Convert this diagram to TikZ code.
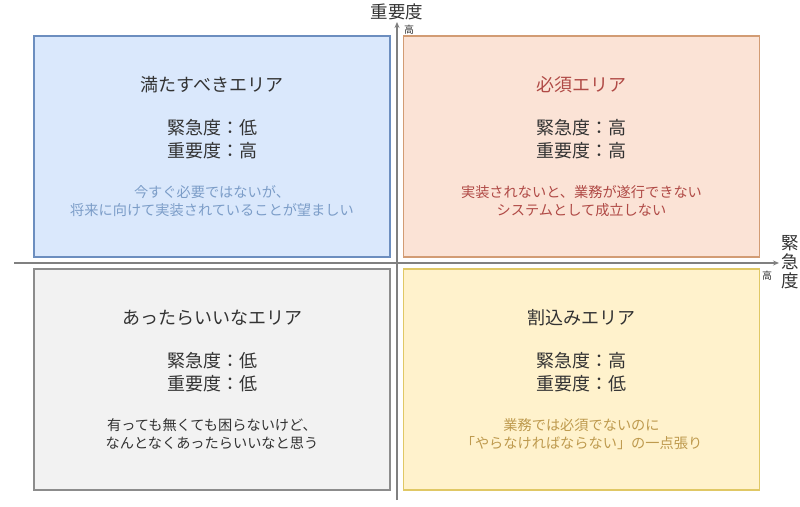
\documentclass[tikz,border=0pt]{standalone}
\usepackage{fontspec}
\setmainfont{Noto Sans CJK JP}
\usetikzlibrary{positioning, arrows.meta}
\definecolor{txtgray}{HTML}{333333}
\definecolor{axisgray}{HTML}{808080}
\definecolor{blueFill}{HTML}{DAE8FC}
\definecolor{blueLine}{HTML}{6C8EBF}
\definecolor{blueText}{HTML}{7C9DC8}
\definecolor{redFill}{HTML}{FBE3D6}
\definecolor{redLine}{HTML}{D29C74}
\definecolor{redText}{HTML}{B04A46}
\definecolor{grayFill}{HTML}{F2F2F2}
\definecolor{grayLine}{HTML}{8C8C8C}
\definecolor{yellowFill}{HTML}{FFF2CC}
\definecolor{yellowLine}{HTML}{E0C865}
\definecolor{yellowText}{HTML}{BE9A4E}
\tikzstyle{area} = [rectangle, 
minimum width=356pt, 
minimum height=221pt, 
inner sep=0pt, 
line width=1.2pt]
\tikzstyle{title} = [font=\fontsize{18}{22}\selectfont, 
text=txtgray]
\tikzstyle{level} = [align=center, 
font=\fontsize{18}{23}\selectfont, 
text=txtgray]
\tikzstyle{note} = [align=center, 
font=\fontsize{14.2}{18}\selectfont]
\tikzstyle{axislabel} = [align=center, 
font=\fontsize{17.5}{19}\selectfont, 
text=txtgray, inner sep=0pt]
\tikzstyle{tick} = [font=\fontsize{10}{11}\selectfont, 
text=txtgray, inner sep=0pt]
\tikzstyle{arrow} = [line width=1.1pt, draw=axisgray, 
-{Stealth[length=6pt, width=5pt]}]

\begin{document}
\begin{tikzpicture}[x=1pt, y=-1pt, node distance=54pt]
\useasboundingbox [fill=white] (0,0) rectangle (800,506);

\node (areaA) [area, draw=blueLine, fill=blueFill] at (212,146.5) {};
\node (areaB) [area, draw=redLine, fill=redFill] at (581.5,146.5) {};
\node (areaC) [area, draw=grayLine, fill=grayFill] at (212,379.5) {};
\node (areaD) [area, draw=yellowLine, fill=yellowFill] at (581.5,379.5) {};

\node (ttlA) [title] at (212,85) {満たすべきエリア};
\node (lvA) [level, below of=ttlA, yshift=-0.5pt] {緊急度：低\\重要度：高};
\node (noteA) [note, text=blueText, below of=lvA, yshift=-7.5pt] {今すぐ必要ではないが、\\将来に向けて実装されていることが望ましい};

\node (ttlB) [title, text=redText] at (581.5,85) {必須エリア};
\node (lvB) [level, below of=ttlB, yshift=-0.5pt] {緊急度：高\\重要度：高};
\node (noteB) [note, text=redText, below of=lvB, yshift=-7.5pt] {実装されないと、業務が遂行できない\\システムとして成立しない};

\node (ttlC) [title] at (212,318) {あったらいいなエリア};
\node (lvC) [level, below of=ttlC, yshift=-0.5pt] {緊急度：低\\重要度：低};
\node (noteC) [note, text=txtgray, below of=lvC, yshift=-7.5pt] {有っても無くても困らないけど、\\なんとなくあったらいいなと思う};

\node (ttlD) [title] at (581.5,318) {割込みエリア};
\node (lvD) [level, below of=ttlD, yshift=-0.5pt] {緊急度：高\\重要度：低};
\node (noteD) [note, text=yellowText, below of=lvD, yshift=-7.5pt] {業務では必須でないのに\\「やらなければならない」の一点張り};

% axes
\coordinate (yFrom) at (397,500);
\coordinate (yTo) at (397,22);
\coordinate (xFrom) at (14,263);
\coordinate (xTo) at (779,263);
\draw [arrow] (yFrom) -- (yTo);
\draw [arrow] (xFrom) -- (xTo);

\node (yName) [axislabel] at (397,12) {重要度};
\node (yHigh) [tick] at (409,30) {高};
\node (xName) [axislabel] at (790,262) {緊\\急\\度};
\node (xHigh) [tick] at (767,276) {高};
\end{tikzpicture}
\end{document}
